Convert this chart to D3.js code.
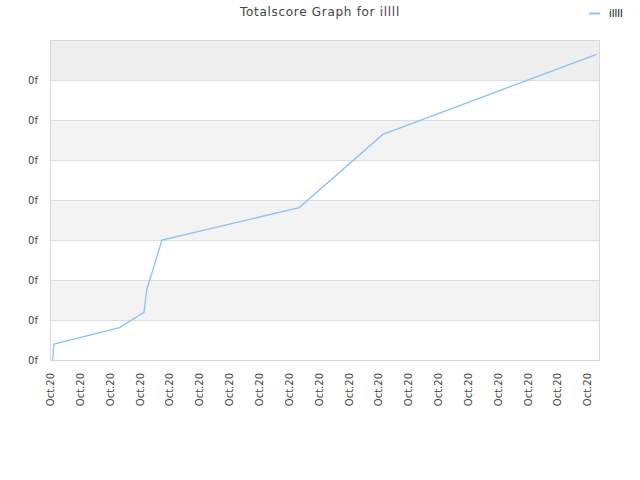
<!DOCTYPE html>
<html><head><meta charset="utf-8">
<script src="https://cdn.jsdelivr.net/npm/d3@7"></script>
<style>body{margin:0;background:#fff;} text{font-family:"DejaVu Sans",Verdana,sans-serif;}</style>
</head><body>
<svg id="c" width="640" height="480"></svg>
<script>
const title = "Totalscore Graph for illll";
const seriesName = "illll";
// x in label-step units, y in grid-step units
const xValues = [0.09, 0.13, 2.33, 3.15, 3.24, 3.75, 8.35, 11.15, 18.31];
const yValues = [0, 0.40, 0.81, 1.19, 1.75, 3.0, 3.81, 5.64, 7.64];
const xTickLabels = Array.from({length: 19}, () => "Oct.20");
const yTickLabels = ["0f","0f","0f","0f","0f","0f","0f","0f"];

const svg = d3.select("#c");
const m = {l: 50, r: 40, t: 40, b: 120};
const W = 640, H = 480;
const x = d3.scaleLinear().domain([0, 18.425]).range([m.l, W - m.r]);
const y = d3.scaleLinear().domain([0, 8]).range([H - m.b, m.t]);

// bands
const bands = d3.range(8);
svg.selectAll("rect.band").data(bands).join("rect")
  .attr("x", m.l).attr("width", W - m.r - m.l)
  .attr("y", d => y(d + 1)).attr("height", d => y(d) - y(d + 1))
  .attr("fill", d => d === 7 ? "#eeeeee" : (d % 2 === 1 ? "#f3f3f3" : "#ffffff"));

// grid lines
svg.selectAll("line.grid").data(d3.range(1, 8)).join("line")
  .attr("x1", m.l).attr("x2", W - m.r)
  .attr("y1", d => y(d) + 0.5).attr("y2", d => y(d) + 0.5)
  .attr("stroke", "#dddddd");

// frame
svg.append("rect").attr("x", m.l + 0.5).attr("y", m.t + 0.5)
  .attr("width", W - m.r - m.l - 1).attr("height", H - m.b - m.t)
  .attr("fill", "none").attr("stroke", "#d8d8d8");

// y axis
const yAxis = d3.axisLeft(y).tickValues(d3.range(0, 8)).tickSize(0).tickPadding(12)
  .tickFormat((d, i) => yTickLabels[i]);
const gy = svg.append("g").attr("transform", `translate(${m.l},0)`).call(yAxis);
gy.select(".domain").remove();
gy.selectAll("text").attr("fill", "#444").style("font-size", "10px").attr("dy", "0.32em");

// x axis
const xAxis = d3.axisBottom(x).tickValues(d3.range(0, 19)).tickSize(0)
  .tickFormat((d, i) => xTickLabels[i]);
const gx = svg.append("g").attr("transform", `translate(0,${H - m.b})`).call(xAxis);
gx.select(".domain").remove();
gx.selectAll("text").attr("fill", "#444").style("font-size", "10px")
  .attr("transform", "rotate(-90)").attr("text-anchor", "end")
  .attr("x", -13).attr("y", 0).attr("dy", "0.35em");

// line
const pts = xValues.map((v, i) => [v, yValues[i]]);
svg.append("path").datum(pts)
  .attr("fill", "none").attr("stroke", "#90c0f0").attr("stroke-width", 1.3)
  .attr("d", d3.line().x(d => x(d[0])).y(d => y(d[1])));

// title
svg.append("text").attr("x", 320).attr("y", 16).attr("text-anchor", "middle")
  .attr("fill", "#444").style("font-size", "12px").style("letter-spacing", "0.7px").text(title);

// legend
svg.append("line").attr("x1", 589).attr("x2", 600).attr("y1", 13.5).attr("y2", 13.5)
  .attr("stroke", "#90c0f0").attr("stroke-width", 2);
svg.append("text").attr("x", 609).attr("y", 17).attr("fill", "#000")
  .style("font-size", "10px").text(seriesName);
</script>
</body></html>
